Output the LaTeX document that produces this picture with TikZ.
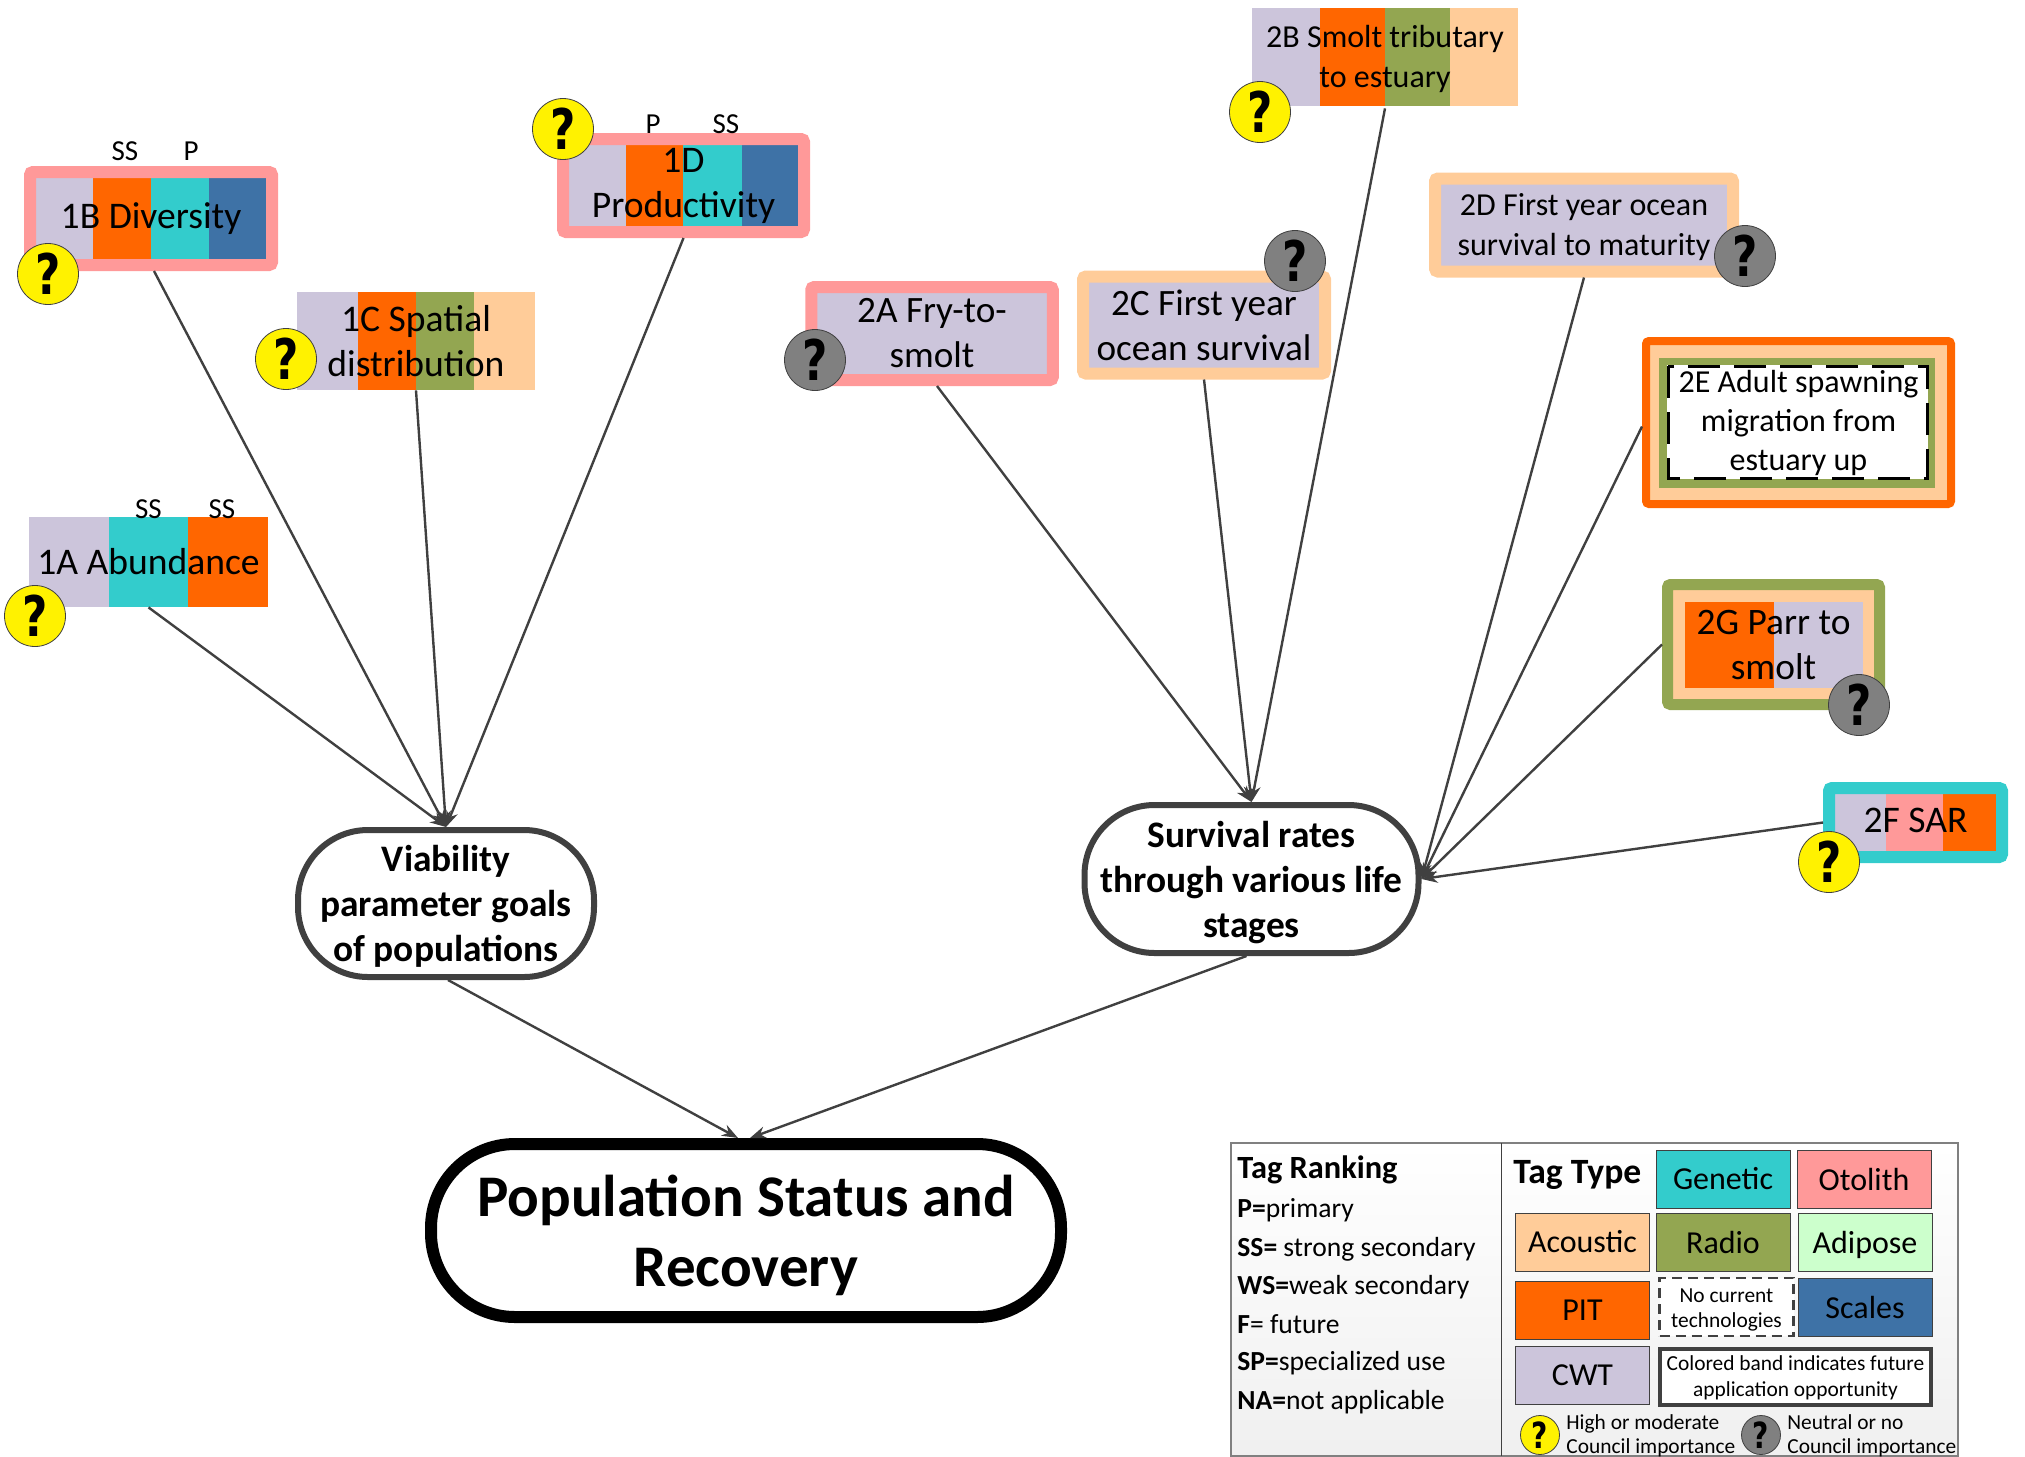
\documentclass[tikz,border=0pt]{standalone}
\usepackage{fontspec}
\setmainfont{Carlito}
\newfontfamily\badgefont{DejaVu Sans}
\usetikzlibrary{arrows.meta}
\definecolor{CWT}{HTML}{CCC5DB}
\definecolor{PIT}{HTML}{FF6600}
\definecolor{Genetic}{HTML}{33CCCC}
\definecolor{Otolith}{HTML}{FF9999}
\definecolor{Acoustic}{HTML}{FFCC99}
\definecolor{Radio}{HTML}{93A651}
\definecolor{Scales}{HTML}{3E72A6}
\definecolor{Adipose}{HTML}{CCFFCC}
\definecolor{linegray}{HTML}{404040}
\newcommand{\qmark}{\scalebox{0.78}[1]{?}}
\tikzset{
	tagbox/.style={inner sep=0pt, align=center, rounded corners=1.5pt, font=\fontsize{18.8}{22.5}\selectfont},
	goalbox/.style={draw=linegray, fill=white, line width=3pt, inner sep=0pt, align=center, rounded corners=35pt, font=\bfseries\fontsize{18.7}{22.5}\selectfont},
	link/.style={draw=linegray, line width=1.2pt, -{Stealth[length=8pt,width=6pt]}},
	highq/.style={circle, draw=linegray, line width=0.4pt, fill=yellow, minimum size=30.5pt, inner sep=0pt, font=\badgefont\bfseries\fontsize{28}{28}\selectfont},
	lowq/.style={highq, fill=gray},
	rank/.style={font=\fontsize{14.5}{14.5}\selectfont},
	keybox/.style={draw=linegray, line width=0.5pt, minimum width=67pt, minimum height=29pt, inner sep=0pt, align=center, font=\fontsize{16}{16}\selectfont},
	keyline/.style={anchor=west, inner sep=0pt, font=\fontsize{13.8}{13.8}\selectfont},
	keynote/.style={anchor=west, inner sep=0pt, align=left, font=\fontsize{10.7}{12}\selectfont}
}
\begin{document}
\begin{tikzpicture}[x=0.5pt, y=-0.5pt]
	\useasboundingbox (0,0) rectangle (2025,1457);

	\foreach \xa/\xb/\col in {29/109/CWT, 109/188/Genetic, 188/268/PIT}
		\fill[\col] (\xa,517) rectangle (\xb,607);
	\node[tagbox, minimum width=119.5pt, minimum height=45pt] (tagA) at (148.5,562) {1A Abundance};

	\foreach \xa/\xb/\col in {36/93/CWT, 93/151/PIT, 151/209/Genetic, 209/266/Scales}
		\fill[\col] (\xa,178) rectangle (\xb,259);
	\node[tagbox, draw=Otolith, line width=6pt, minimum width=121pt, minimum height=46.5pt] (tagB) at (151,218.5) {1B Diversity};

	\foreach \xa/\xb/\col in {297/358/CWT, 358/416/PIT, 416/474/Radio, 474/535/Acoustic}
		\fill[\col] (\xa,292) rectangle (\xb,390);
	\node[tagbox, minimum width=119pt, minimum height=49pt] (tagC) at (416,341) {1C Spatial\\distribution};

	\foreach \xa/\xb/\col in {569/626/CWT, 626/683/PIT, 683/742/Genetic, 742/798/Scales}
		\fill[\col] (\xa,145) rectangle (\xb,226);
	\node[tagbox, draw=Otolith, line width=6pt, minimum width=120.5pt, minimum height=46.5pt] (tagD) at (683.5,185.5) {1D\\Productivity};

	\node[tagbox, draw=Otolith, fill=CWT, line width=6pt, minimum width=120.75pt, minimum height=46.5pt, font=\fontsize{18.6}{22.5}\selectfont] (fry) at (932,333.5) {2A Fry-to-\\smolt};

	\foreach \xa/\xb/\col in {1252/1320/CWT, 1320/1385/PIT, 1385/1450/Radio, 1450/1518/Acoustic}
		\fill[\col] (\xa,8) rectangle (\xb,106);
	\node[tagbox, minimum width=133pt, minimum height=49pt, font=\fontsize{16}{20}\selectfont] (smolt) at (1385,59) {2B Smolt tributary\\to estuary};

	\node[tagbox, draw=Acoustic, fill=CWT, line width=6pt, minimum width=121pt, minimum height=48.5pt, font=\fontsize{18.6}{22.5}\selectfont] (ocean) at (1204,325) {2C First year\\ocean survival};

	\node[tagbox, draw=Acoustic, fill=CWT, line width=6pt, minimum width=149pt, minimum height=46.5pt, font=\fontsize{16}{20}\selectfont] (mature) at (1584,225) {\rule{0pt}{13.5pt}2D First year ocean\\survival to maturity};

	\fill[Acoustic] (1645,341) rectangle (1952,504);
	\fill[Radio] (1659,358) rectangle (1935,488);
	\fill[white] (1667,365) rectangle (1928,479);
	\draw[line width=1.5pt, dash pattern=on 16pt off 7pt] (1668,366) rectangle (1927,478);
	\node[tagbox, draw=PIT, line width=4pt, minimum width=152.5pt, minimum height=81.5pt, font=\fontsize{16}{19.5}\selectfont] (adult) at (1798.5,422.5) {2E Adult spawning\\migration from\\estuary up};

	\fill[Acoustic] (1667,584) rectangle (1880,705);
	\foreach \xa/\xb/\col in {1685/1774/PIT, 1774/1863/CWT}
		\fill[\col] (\xa,602) rectangle (\xb,688);
	\node[tagbox, draw=Radio, line width=5.5pt, minimum width=106pt, minimum height=60pt, font=\fontsize{18.7}{22.5}\selectfont] (parr) at (1773.5,644.5) {2G Parr to\\smolt};

	\foreach \xa/\xb/\col in {1835/1886/CWT, 1886/1943/Otolith, 1943/1996/PIT}
		\fill[\col] (\xa,793) rectangle (\xb,852);
	\node[tagbox, draw=Genetic, line width=6pt, minimum width=86.5pt, minimum height=34.5pt, text depth=2.6pt, font=\fontsize{18.8}{22.5}\selectfont] (sar) at (1915.5,822.5) {2F SAR};

	\node[rank] (rankAa) at (148.5,509) {SS};
	\node[rank] (rankAb) at (222,509) {SS};
	\node[rank] (rankBa) at (125,151) {SS};
	\node[rank] (rankBb) at (191,151) {P};
	\node[rank] (rankDa) at (653,124) {P};
	\node[rank] (rankDb) at (726,124) {SS};

	\node[goalbox, minimum width=148pt, minimum height=73.5pt] (viability) at (446,903.5) {\rule{0pt}{16.2pt}Viability\\parameter goals\\of populations};
	\node[goalbox, minimum width=167pt, minimum height=74pt] (survival) at (1251.5,879) {\rule{0pt}{16.2pt}Survival rates\\through various life\\stages};
	\node[goalbox, draw=black, line width=6pt, rounded corners=42pt, minimum width=315pt, minimum height=86.5pt, font=\bfseries\fontsize{29.5}{35}\selectfont] (status) at (746,1230.5) {\rule{0pt}{25.4pt}Population Status and\\Recovery};

	\draw[link] (tagA.south) -- (viability.north);
	\draw[link] ([xshift=1.5pt]tagB.south) -- (viability.north);
	\draw[link] (tagC.south) -- (viability.north);
	\draw[link] (tagD.south) -- (viability.north);
	\draw[link] ([xshift=2.5pt]fry.south) -- (survival.north);
	\draw[link] (smolt.south) -- (survival.north);
	\draw[link] (ocean.south) -- (survival.north);
	\draw[link] (mature.south) -- (survival.east);
	\draw[link] ([yshift=-2pt]adult.west) -- (survival.east);
	\draw[link] (parr.west) -- (survival.east);
	\draw[link] (sar.west) -- (survival.east);
	\draw[link] ([xshift=1pt]viability.south) -- ([xshift=-4pt]status.north);
	\draw[link] ([xshift=-2.5pt]survival.south) -- ([xshift=2pt]status.north);

	\node[highq] (qA) at (35,616) {\qmark};
	\node[highq] (qB) at (48,274) {\qmark};
	\node[highq] (qC) at (286,359) {\qmark};
	\node[highq] (qD) at (563,129) {\qmark};
	\node[lowq] (qFry) at (815,360) {\qmark};
	\node[highq] (qSmolt) at (1260,112) {\qmark};
	\node[lowq] (qOcean) at (1295,261) {\qmark};
	\node[lowq] (qMature) at (1745,256) {\qmark};
	\node[lowq] (qParr) at (1859,705) {\qmark};
	\node[highq] (qSar) at (1829,862) {\qmark};

	\draw[draw=gray, line width=1pt, top color=white, bottom color=black!6] (1231,1143) rectangle (1958,1456);
	\draw[linegray, line width=0.5pt] (1501,1143) -- (1501,1456);

	\node[keyline, font=\bfseries\fontsize{16.2}{16.2}\selectfont] (rankTitle) at (1237,1170) {Tag Ranking};
	\node[keyline] (rankP) at (1237,1210) {\textbf{P=}primary};
	\node[keyline] (rankSS) at (1237,1249) {\textbf{SS=} strong secondary};
	\node[keyline] (rankWS) at (1237,1287) {\textbf{WS=}weak secondary};
	\node[keyline] (rankF) at (1237,1324) {\textbf{F}= future};
	\node[keyline] (rankSP) at (1237,1363) {\textbf{SP=}specialized use};
	\node[keyline] (rankNA) at (1237,1402) {\textbf{NA=}not applicable};

	\node[keyline, font=\bfseries\fontsize{17.8}{17.8}\selectfont] (typeTitle) at (1513,1175) {Tag Type};
	\node[keybox, fill=Genetic] (keyGenetic) at (1723,1179) {Genetic};
	\node[keybox, fill=Otolith] (keyOtolith) at (1864,1179) {Otolith};
	\node[keybox, fill=Acoustic] (keyAcoustic) at (1582.5,1242) {Acoustic};
	\node[keybox, fill=Radio] (keyRadio) at (1723,1242) {Radio};
	\node[keybox, fill=Adipose, text depth=0pt] (keyAdipose) at (1865,1242) {Adipose};
	\node[keybox, fill=PIT] (keyPIT) at (1582.5,1310) {PIT};
	\node[keybox, fill=white, draw=linegray, line width=1.2pt, dash pattern=on 5pt off 3pt, font=\fontsize{10.7}{12.5}\selectfont] (keyNone) at (1726.5,1307) {\rule{0pt}{10pt}No current\\technologies};
	\node[keybox, fill=Scales] (keyScales) at (1865,1307) {Scales};
	\node[keybox, fill=CWT] (keyCWT) at (1582.5,1375.5) {CWT};
	\node[keybox, fill=white, line width=2pt, minimum width=135.5pt, minimum height=28pt, font=\fontsize{10.7}{13}\selectfont] (keyBand) at (1795.5,1376.5) {\rule{0pt}{9pt}Colored band indicates future\\application opportunity};

	\node[highq, minimum size=19.5pt, font=\badgefont\bfseries\fontsize{18}{18}\selectfont] (keyHigh) at (1540,1435) {\qmark};
	\node[lowq, minimum size=19.5pt, font=\badgefont\bfseries\fontsize{18}{18}\selectfont] (keyLow) at (1761,1435) {\qmark};
	\node[keynote] (noteHigh) at (1566,1436) {High or moderate\\Council importance};
	\node[keynote] (noteLow) at (1787,1436) {Neutral or no\\Council importance};
\end{tikzpicture}
\end{document}
